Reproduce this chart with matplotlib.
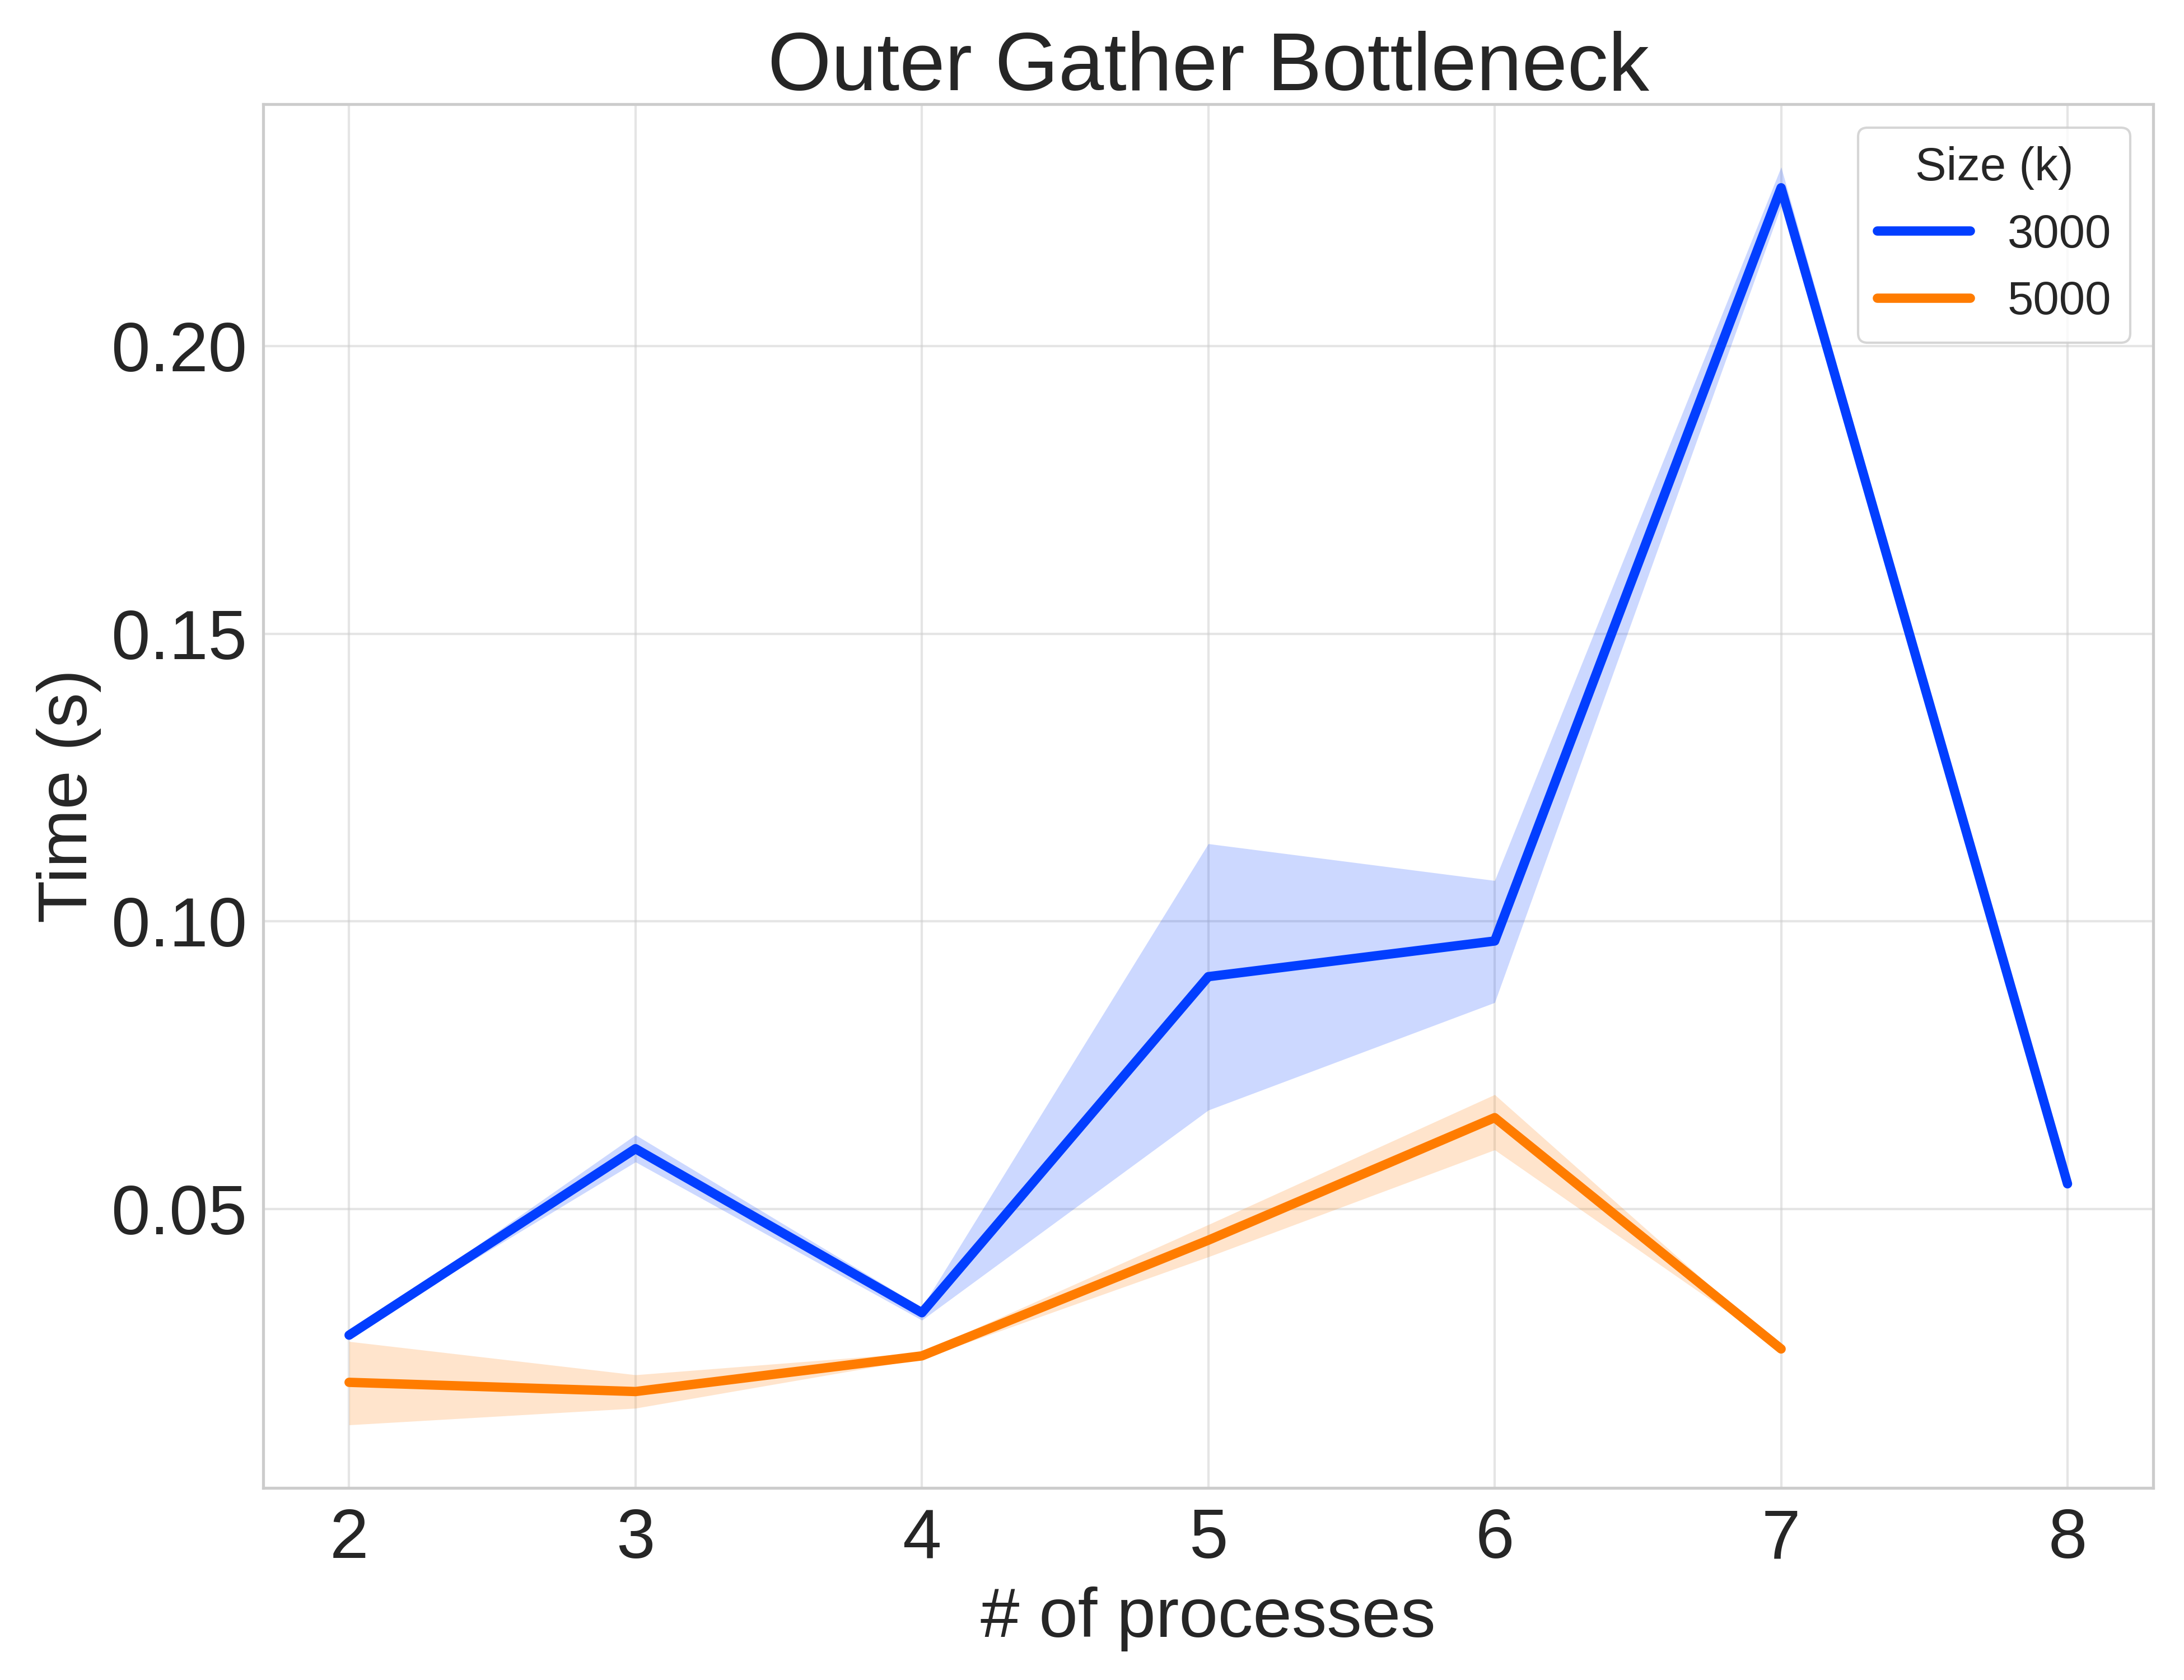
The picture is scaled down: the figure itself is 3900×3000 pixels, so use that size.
import numpy as np
import matplotlib
matplotlib.use("Agg")
import matplotlib.pyplot as plt
import seaborn as sns

# number of processes on the x axis
procs_3000 = [2, 3, 4, 5, 6, 7, 8]
procs_5000 = [2, 3, 4, 5, 6, 7]

# mean time (s) and confidence band
mean_3000 = [0.0281, 0.0605, 0.0320, 0.0904, 0.0966, 0.2275, 0.0544]
low_3000 = [0.0281, 0.0582, 0.0307, 0.0672, 0.0859, 0.2243, 0.0544]
high_3000 = [0.0281, 0.0629, 0.0329, 0.1135, 0.1071, 0.2311, 0.0544]

mean_5000 = [0.0199, 0.0183, 0.0245, 0.0446, 0.0659, 0.0257]
low_5000 = [0.0125, 0.0154, 0.0240, 0.0417, 0.0603, 0.0257]
high_5000 = [0.0270, 0.0212, 0.0251, 0.0473, 0.0699, 0.0257]

sizes = ["3000", "5000"]

sns.set_style("whitegrid")
plt.rcParams["font.family"] = ["Liberation Sans", "DejaVu Sans"]

colors = sns.color_palette("bright", 2)

fig, ax = plt.subplots(figsize=(13, 10))

series = [
    (procs_3000, mean_3000, low_3000, high_3000),
    (procs_5000, mean_5000, low_5000, high_5000),
]
for (x, m, lo, hi), lab, c in zip(series, sizes, colors):
    ax.fill_between(x, lo, hi, color=c, alpha=0.2, linewidth=0)
    ax.plot(x, m, color=c, lw=4, label=lab, solid_capstyle="round")

ax.grid(color=".8", alpha=0.5, linewidth=1)
for s in ax.spines.values():
    s.set_color(".8")
    s.set_linewidth(1.25)

ax.set_title("Outer Gather Bottleneck", fontsize=35, color=".15")
ax.set_xlabel("# of processes", fontsize=30, color=".15", labelpad=6)
ax.set_ylabel("Time (s)", fontsize=30, color=".15")
ax.tick_params(axis="both", labelsize=30, colors=".15")
ax.tick_params(axis="x", pad=5)
ax.set_xticks(procs_3000)
ax.set_yticks([0.05, 0.10, 0.15, 0.20])
ax.set_yticklabels(["0.05", "0.10", "0.15", "0.20"])

leg = ax.legend(title="Size (k)", fontsize=20, title_fontsize=20, loc="upper right")
leg.get_frame().set_edgecolor(".8")

fig.subplots_adjust(left=0.1205, right=0.986, top=0.938, bottom=0.1144)
fig.savefig("out.png", dpi=300)
